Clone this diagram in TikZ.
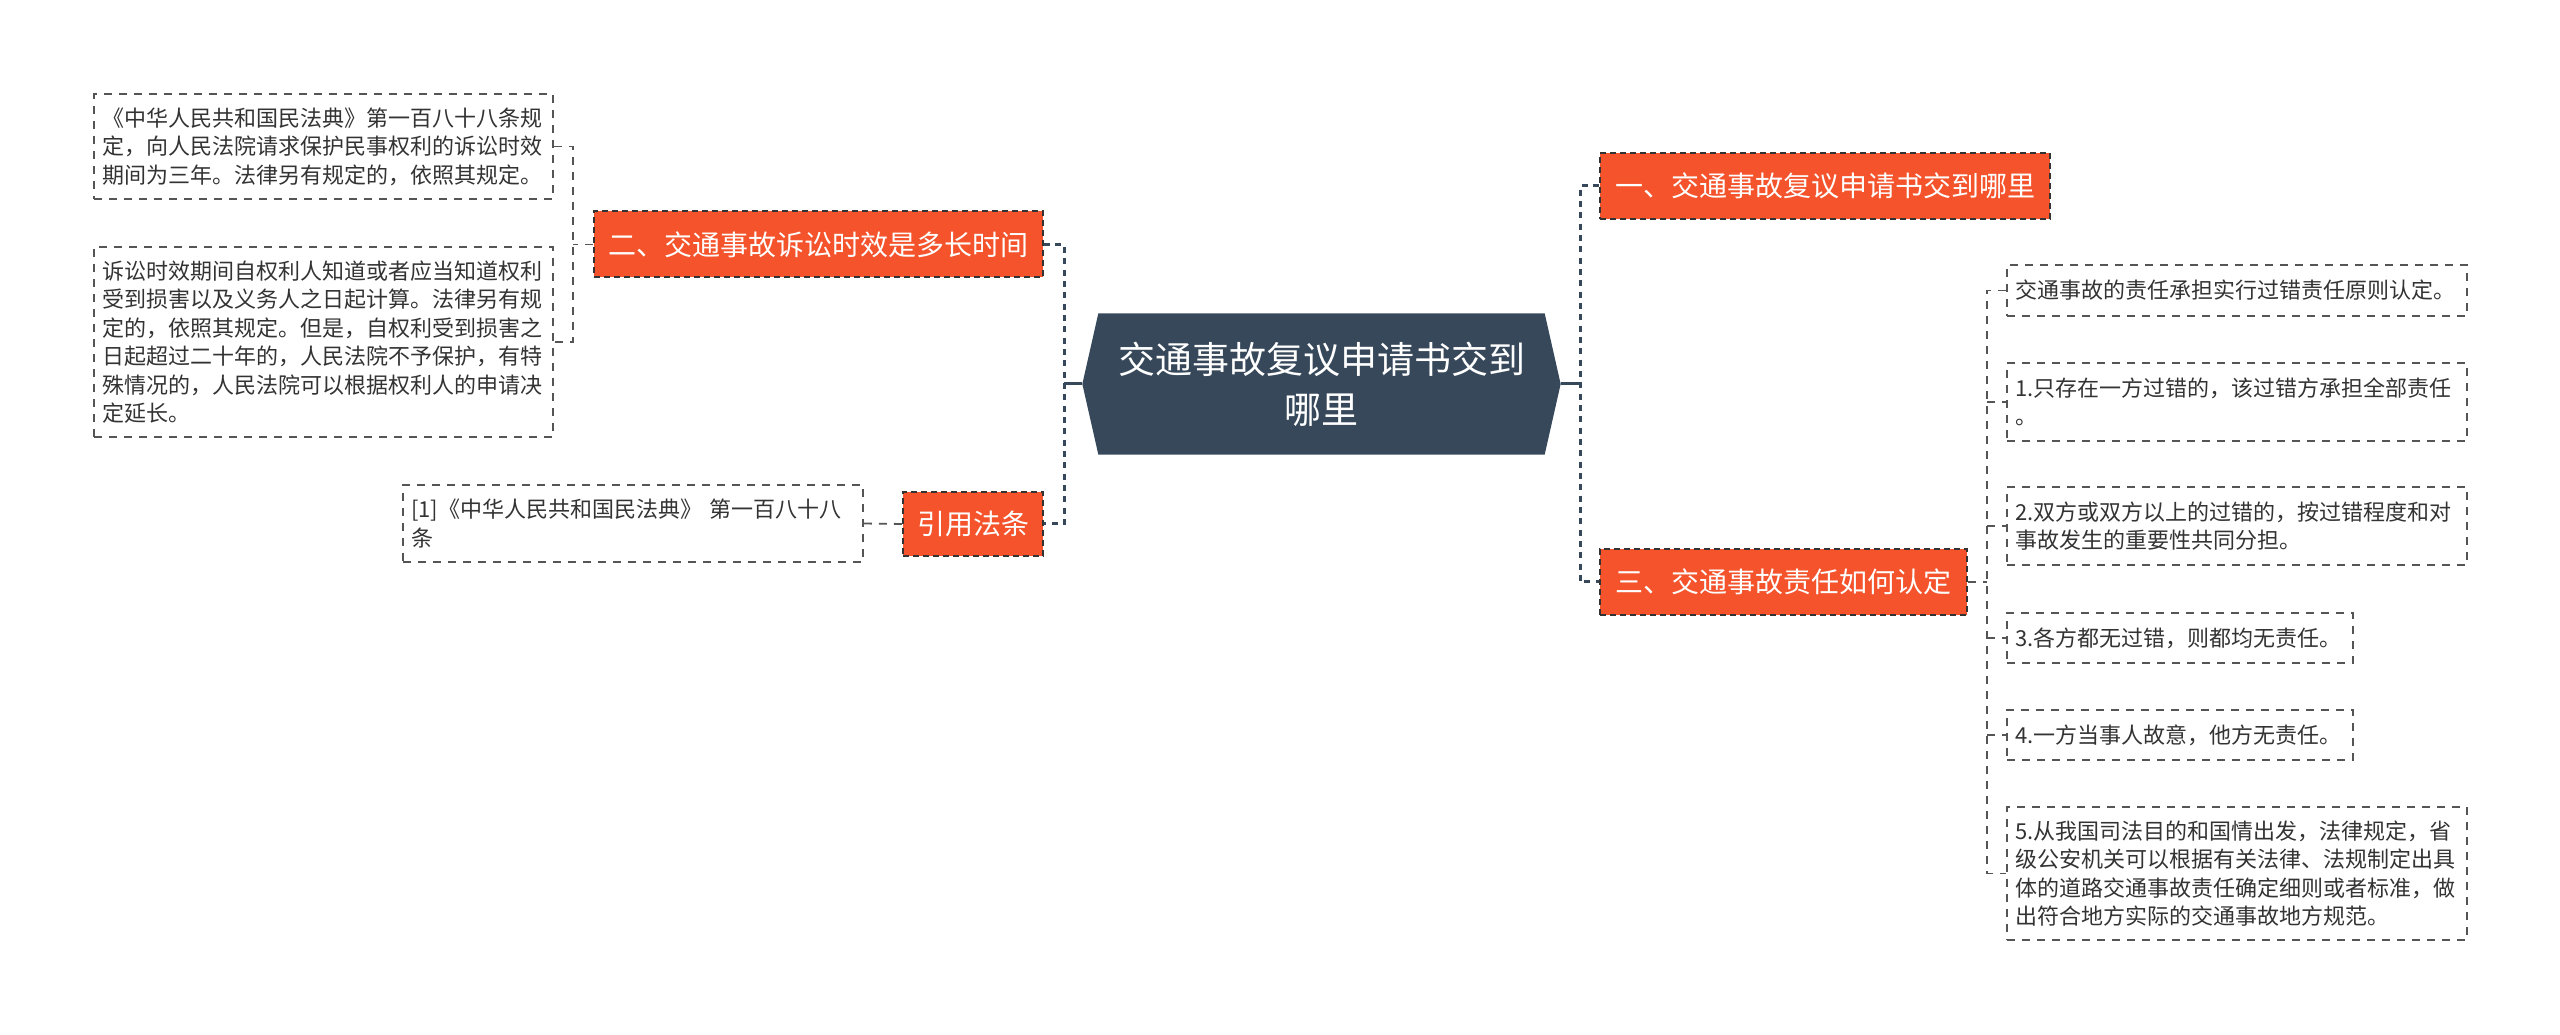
\documentclass[tikz,border=0pt]{standalone}
\usepackage{fontspec}
\usepackage{tikz}
\usetikzlibrary{calc, backgrounds}
\newfontfamily\cjk{Noto Sans CJK SC}
\definecolor{slate}{HTML}{36485A}
\definecolor{hot}{HTML}{F4532B}
\definecolor{ink}{HTML}{333333}
\definecolor{rim}{HTML}{555555}
\tikzset{
  rootnode/.style ={minimum width=143.1pt, minimum height=42pt, inner sep=0pt, align=center, text=white, font=\cjk\fontsize{11.1pt}{15pt}\selectfont},
  topic/.style    ={draw=ink, fill=hot, dash pattern=on 1.8pt off 1.2pt, line width=0.6pt, minimum height=19.8pt, inner sep=0pt, text=white, font=\cjk\fontsize{8.4pt}{10pt}\selectfont},
  leaf/.style     ={draw=rim, dash pattern=on 2.4pt off 2.1pt, line width=0.55pt, inner xsep=2.5pt, inner ysep=0pt, align=left, text=ink, font=\cjk\fontsize{6.6pt}{8.55pt}\selectfont},
  trunk/.style    ={slate, line width=0.9pt, dash pattern=on 1.8pt off 1.6pt},  % root -> topics
  twig/.style     ={rim, line width=0.55pt, dash pattern=on 2.4pt off 2.1pt},   % topic -> leaves
}

\begin{document}
\begin{tikzpicture}[x=0.3pt, y=-0.3pt]
  \useasboundingbox (0,0) rectangle (2560,1035);

  % CENTRE
  \node[rootnode] (root) at (1321.5,384) {交通事故复议申请书交到\\哪里};
  \begin{scope}[on background layer]
    \fill[slate] (root.west) -- ($(root.north west)+(16,0)$) -- ($(root.north east)+(-16,0)$)
      -- (root.east) -- ($(root.south east)+(-16,0)$) -- ($(root.south west)+(16,0)$) -- cycle;
  \end{scope}

  % LEFT
  \node[topic, minimum width=134.7pt] (k2) at (818.5,244.5) {二、交通事故诉讼时效是多长时间};
  \node[topic, minimum width=42pt, minimum height=19.2pt] (k3) at (973,524) {引用法条};
  \node[leaf, text width=132.7pt, minimum height=31.5pt] (lawA) at (323.5,146.5)
    {《中华人民共和国民法典》第一百八十八条规\\定，向人民法院请求保护民事权利的诉讼时效\\期间为三年。法律另有规定的，依照其规定。};
  \node[leaf, text width=132.7pt, minimum height=57pt] (lawB) at (323.5,342)
    {诉讼时效期间自权利人知道或者应当知道权利\\受到损害以及义务人之日起计算。法律另有规\\定的，依照其规定。但是，自权利受到损害之\\日起超过二十年的，人民法院不予保护，有特\\殊情况的，人民法院可以根据权利人的申请决\\定延长。};
  \node[leaf, text width=133pt, minimum height=23.1pt] (ref) at (633,523.5)
    {[1]《中华人民共和国民法典》 第一百八十八\\条};

  \coordinate (lj) at (1064,384);
  \draw[trunk, solid] (root.west) -- (lj);
  \draw[trunk] (k2.east) -| (lj) |- (k3.east);
  \coordinate (lk) at (573,244.5);
  \draw[twig] (k2.west) -- (lk);
  \draw[twig] (lawA.east) -| (lk) |- (lawB.east);
  \draw[twig] (ref.east) -- (k3.west);

  % RIGHT
  \node[topic, minimum width=135pt] (k1) at (1825,186) {一、交通事故复议申请书交到哪里};
  \node[topic, minimum width=110.1pt] (k4) at (1783.5,582) {三、交通事故责任如何认定};
  \node[leaf, text width=133pt, minimum height=15.3pt] (r0) at (2237,290.5)
    {交通事故的责任承担实行过错责任原则认定。};
  \node[leaf, text width=133pt, minimum height=23.4pt] (r1) at (2237,402)
    {1.只存在一方过错的，该过错方承担全部责任\\。};
  \node[leaf, text width=133pt, minimum height=23.4pt] (r2) at (2237,526)
    {2.双方或双方以上的过错的，按过错程度和对\\事故发生的重要性共同分担。};
  \node[leaf, text width=98.8pt, minimum height=15pt] (r3) at (2180,638)
    {3.各方都无过错，则都均无责任。};
  \node[leaf, text width=98.8pt, minimum height=15pt] (r4) at (2180,735)
    {4.一方当事人故意，他方无责任。};
  \node[leaf, text width=133pt, minimum height=39.9pt] (r5) at (2237,873.5)
    {5.从我国司法目的和国情出发，法律规定，省\\级公安机关可以根据有关法律、法规制定出具\\体的道路交通事故责任确定细则或者标准，做\\出符合地方实际的交通事故地方规范。};

  \coordinate (rj) at (1580,384);
  \draw[trunk, solid] (root.east) -- (rj);
  \draw[trunk] (k1.west) -| (rj) |- (k4.west);
  \coordinate (rk) at (1987,582);
  \draw[twig] (k4.east) -- (rk);
  \draw[twig] (r0.west) -| (rk) |- (r5.west);
  \foreach \n in {r1,r2,r3,r4}
    \draw[twig] (rk |- \n.west) -- (\n.west);
\end{tikzpicture}
\end{document}
